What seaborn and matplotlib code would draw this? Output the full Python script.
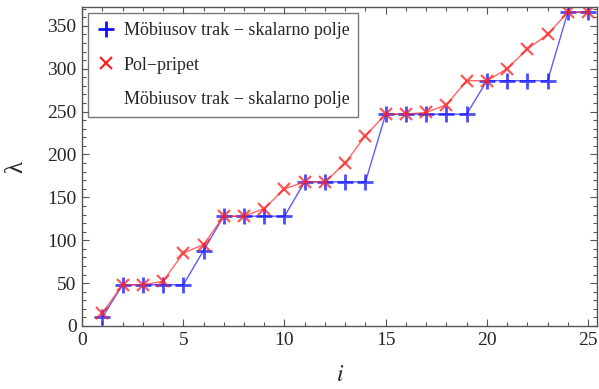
import numpy as np
import pandas as pd
import matplotlib
matplotlib.use("Agg")
import matplotlib.pyplot as plt
import seaborn as sns
from matplotlib.lines import Line2D
from matplotlib.ticker import MultipleLocator

idx = list(range(1, 26))
mobius = [10, 48, 48, 48, 48, 88, 128, 128, 128, 128, 168, 168, 168, 168,
          247, 247, 247, 247, 247, 286, 286, 286, 286, 366, 366]
polpripet = [15, 48, 48, 52, 85, 95, 128, 128, 137, 160, 168, 168, 190, 222,
             247, 247, 249, 258, 286, 286, 300, 323, 340, 366, 366]
label_mob = "Möbiusov trak − skalarno polje"
label_pol = "Pol−pripet"
xticks = [0, 5, 10, 15, 20, 25]
yticks = [0, 50, 100, 150, 200, 250, 300, 350]

sns.set_style("ticks")
plt.rcParams['font.family'] = ['Liberation Serif', 'DejaVu Serif']
plt.rcParams['mathtext.fontset'] = 'stix'

fig = plt.figure(figsize=(5.99, 3.89), dpi=100)
ax = fig.add_axes([0.137, 0.162, 0.86, 0.82])

df = pd.DataFrame({"i": idx, "mob": mobius, "pol": polpripet})
sns.lineplot(data=df, x="i", y="mob", ax=ax, color=(0.15, 0.15, 1.0), lw=1.0,
             alpha=0.75, marker="+", markersize=11, markeredgewidth=2.0,
             markeredgecolor="#1010ff")
sns.lineplot(data=df, x="i", y="pol", ax=ax, color=(1.0, 0.2, 0.2), lw=1.0,
             alpha=0.75, marker="x", markersize=8, markeredgewidth=1.6,
             markeredgecolor="#ff2020")

ax.set_xlim(0, 25.45)
ax.set_ylim(0, 372)
ax.set_xticks(xticks)
ax.set_yticks(yticks)
ax.xaxis.set_minor_locator(MultipleLocator(1))
ax.yaxis.set_minor_locator(MultipleLocator(10))
ax.tick_params(which='both', direction='in', top=True, right=True,
               color='#555555', width=0.8)
ax.tick_params(which='major', length=5, labelsize=14, pad=4)
ax.tick_params(which='minor', length=3)
for s in ax.spines.values():
    s.set_color('#555555')
    s.set_linewidth(1.0)

ax.set_xlabel("$i$", fontsize=17, labelpad=12)
ax.set_ylabel("λ", fontsize=18, labelpad=14)

handles = [
    Line2D([], [], color='#1010ff', marker='+', markersize=11, markeredgewidth=2.0, lw=0),
    Line2D([], [], color='#ff2020', marker='x', markersize=8, markeredgewidth=1.6, lw=0),
    Line2D([], [], color='none', lw=0),
]
leg = ax.legend(handles, [label_mob, label_pol, label_mob], loc='upper left',
                bbox_to_anchor=(0.0, 1.0), fontsize=13, frameon=True,
                fancybox=False, edgecolor='#555555', handlelength=1.0,
                handletextpad=0.45, labelspacing=0.95, borderpad=0.5,
                borderaxespad=0.35)
leg.get_frame().set_linewidth(1.0)

fig.savefig("out.png", dpi=100)
